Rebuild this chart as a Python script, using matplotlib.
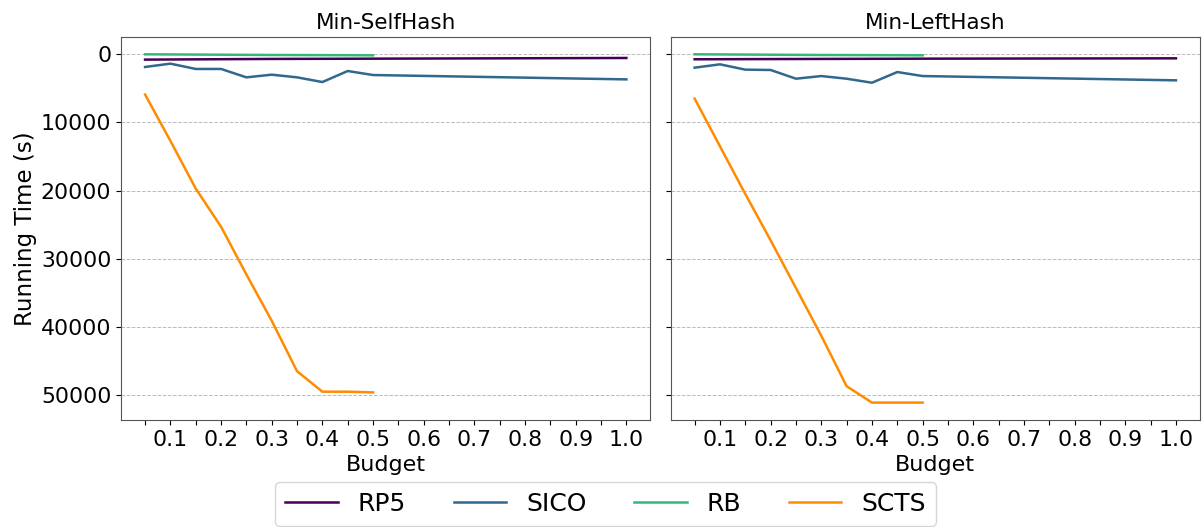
import matplotlib.pyplot as plt
import numpy as np

# budget values
budget = [0.05, 0.1, 0.15, 0.2, 0.25, 0.3, 0.35, 0.4, 0.45, 0.5, 1.0]
budget_half = [0.05, 0.1, 0.15, 0.2, 0.25, 0.3, 0.35, 0.4, 0.45, 0.5]

titles = ['Min-SelfHash', 'Min-LeftHash']
methods = ['RP5', 'SICO', 'RB', 'SCTS']
colors = ['#440154', '#31688e', '#35b779', '#ff8c00']

# running time (s), Min-SelfHash
rp5_self = [780, 760, 740, 720, 700, 680, 670, 660, 650, 640, 540]
sico_self = [1860, 1370, 2150, 2150, 3380, 2990, 3380, 4070, 2450, 3040, 3680]
rb_self = [0, 20, 40, 60, 80, 100, 110, 120, 130, 150]
scts_self = [5900, 12700, 19700, 25300, 32300, 39100, 46500, 49500, 49500, 49600]

# running time (s), Min-LeftHash
rp5_left = [730, 720, 710, 700, 690, 680, 670, 660, 650, 640, 590]
sico_left = [1960, 1470, 2250, 2300, 3580, 3190, 3580, 4170, 2600, 3190, 3820]
rb_left = [0, 20, 40, 60, 80, 100, 110, 120, 130, 150]
scts_left = [6500, 13500, 20500, 27300, 34300, 41300, 48700, 51100, 51100, 51100]

data = [
    [rp5_self, sico_self, rb_self, scts_self],
    [rp5_left, sico_left, rb_left, scts_left],
]


def main():
    fig, axes = plt.subplots(1, 2, figsize=(12.04, 5.27), dpi=100, sharey=True)
    fig.subplots_adjust(left=0.1005, right=0.9967, top=0.93, bottom=0.203, wspace=0.038)

    ticks = np.round(np.arange(0.05, 1.001, 0.05), 2)
    tick_labels = ['%.1f' % t if abs(t * 10 - round(t * 10)) < 1e-6 else '' for t in ticks]

    for k, ax in enumerate(axes):
        for j, name in enumerate(methods):
            vals = data[k][j]
            xs = budget if len(vals) == len(budget) else budget_half
            ax.plot(xs, vals, color=colors[j], lw=1.8, label=name)
        ax.set_title(titles[k], fontsize=15.5)
        ax.set_xlabel('Budget', fontsize=16)
        ax.set_xticks(ticks)
        ax.set_xticklabels(tick_labels)
        ax.tick_params(labelsize=15.8)
        ax.yaxis.grid(True, linestyle='--', color='#bbbbbb', lw=0.7)
        for s in ax.spines.values():
            s.set_color('#555555')
    axes[0].set_yticks([0, 10000, 20000, 30000, 40000, 50000])
    axes[0].invert_yaxis()
    axes[0].set_ylabel('Running Time (s)', fontsize=16.5, labelpad=3)

    handles, labels = axes[0].get_legend_handles_labels()
    fig.legend(handles, labels, loc='lower center', ncol=4, fontsize=18,
               bbox_to_anchor=(0.503, -0.022), columnspacing=1.9, handlelength=2.1)

    plt.savefig('out.png')


if __name__ == '__main__':
    main()
